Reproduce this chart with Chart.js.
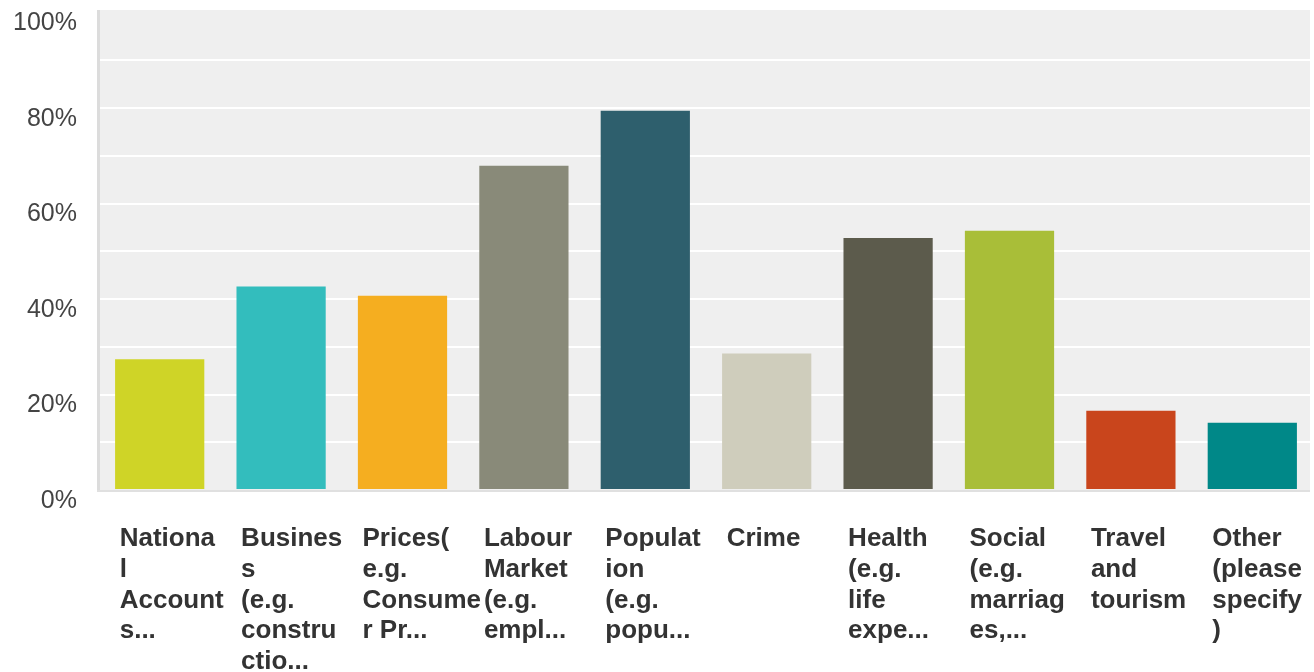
<!DOCTYPE html>
<html>
<head>
<meta charset="utf-8">
<script src="https://cdn.jsdelivr.net/npm/chart.js@4"></script>
<style>
  html, body { margin: 0; padding: 0; background: #ffffff; }
  #wrap { width: 1314px; height: 672px; }
</style>
</head>
<body>
<div id="wrap"><canvas id="c" width="1314" height="672"></canvas></div>
<script>
const categories = [
  ["Nationa", "l", "Account", "s..."],
  ["Busines", "s", "(e.g.", "constru", "ctio..."],
  ["Prices(", "e.g.", "Consume", "r Pr..."],
  ["Labour", "Market", "(e.g.", "empl..."],
  ["Populat", "ion", "(e.g.", "popu..."],
  ["Crime"],
  ["Health", "(e.g.", "life", "expe..."],
  ["Social", "(e.g.", "marriag", "es,..."],
  ["Travel", "and", "tourism"],
  ["Other", "(please", "specify", ")"]
];
const values = [27.4, 42.6, 40.7, 67.9, 79.4, 28.6, 52.8, 54.3, 16.6, 14.1];
const barColors = ["#cfd427", "#33bdbd", "#f5ae20", "#898a79", "#2e5f6d",
                   "#cfcdbc", "#5c5b4c", "#a9be38", "#c9451c", "#008888"];
const yTickLabels = ["0%", "20%", "40%", "60%", "80%", "100%"];

const bgPlugin = {
  id: 'bgPlugin',
  beforeDraw(chart) {
    const { ctx, chartArea: a } = chart;
    ctx.save();
    ctx.fillStyle = '#efefef';
    ctx.fillRect(a.left, a.top - 2.5, 1310 - a.left, a.bottom - a.top + 2.5);
    ctx.restore();
  },
  afterDraw(chart) {
    const { ctx, chartArea: a } = chart;
    ctx.save();
    ctx.fillStyle = '#dcdcdc';
    ctx.fillRect(a.left - 2, a.top - 2.5, 3, a.bottom - a.top + 4.5);
    ctx.fillStyle = '#e0e0e0';
    ctx.fillRect(a.left - 2, a.bottom, 1310 - a.left + 2, 2);
    ctx.restore();
  }
};

new Chart(document.getElementById('c'), {
  type: 'bar',
  data: {
    labels: categories,
    datasets: [{
      data: values,
      backgroundColor: barColors,
      borderWidth: 0,
      categoryPercentage: 1.0,
      barPercentage: 0.735
    }]
  },
  options: {
    responsive: false,
    animation: false,
    devicePixelRatio: 1,
    layout: { padding: { top: 12.5, right: 1, left: 0, bottom: 0 } },
    plugins: {
      legend: { display: false },
      tooltip: { enabled: false }
    },
    scales: {
      x: {
        grid: { display: false, drawTicks: false },
        border: { display: false },
        afterFit(scale) {
          scale.height = 182;
          scale.paddingLeft = 0;
          scale.paddingRight = 0;
        },
        ticks: {
          autoSkip: false,
          maxRotation: 0,
          minRotation: 0,
          align: 'start',
          labelOffset: -40,
          padding: 33,
          color: '#333333',
          font: { family: '"Liberation Sans", Arial, sans-serif', size: 26, weight: 'bold', lineHeight: 1.19 }
        }
      },
      y: {
        min: 0,
        max: 100,
        afterFit(scale) {
          scale.width = 99;
          scale.paddingTop = 0;
          scale.paddingBottom = 0;
        },
        border: { display: false },
        grid: {
          drawTicks: false,
          lineWidth: 2,
          color: (ctx) => (ctx.tick && (ctx.tick.value === 0 || ctx.tick.value === 100)) ? 'rgba(0,0,0,0)' : '#ffffff'
        },
        ticks: {
          stepSize: 10,
          padding: 22,
          labelOffset: 11,
          color: '#444444',
          font: { family: '"Liberation Sans", Arial, sans-serif', size: 25 },
          callback: (v) => (v % 20 === 0 ? yTickLabels[v / 20] : '')
        }
      }
    }
  },
  plugins: [bgPlugin]
});
</script>
</body>
</html>
